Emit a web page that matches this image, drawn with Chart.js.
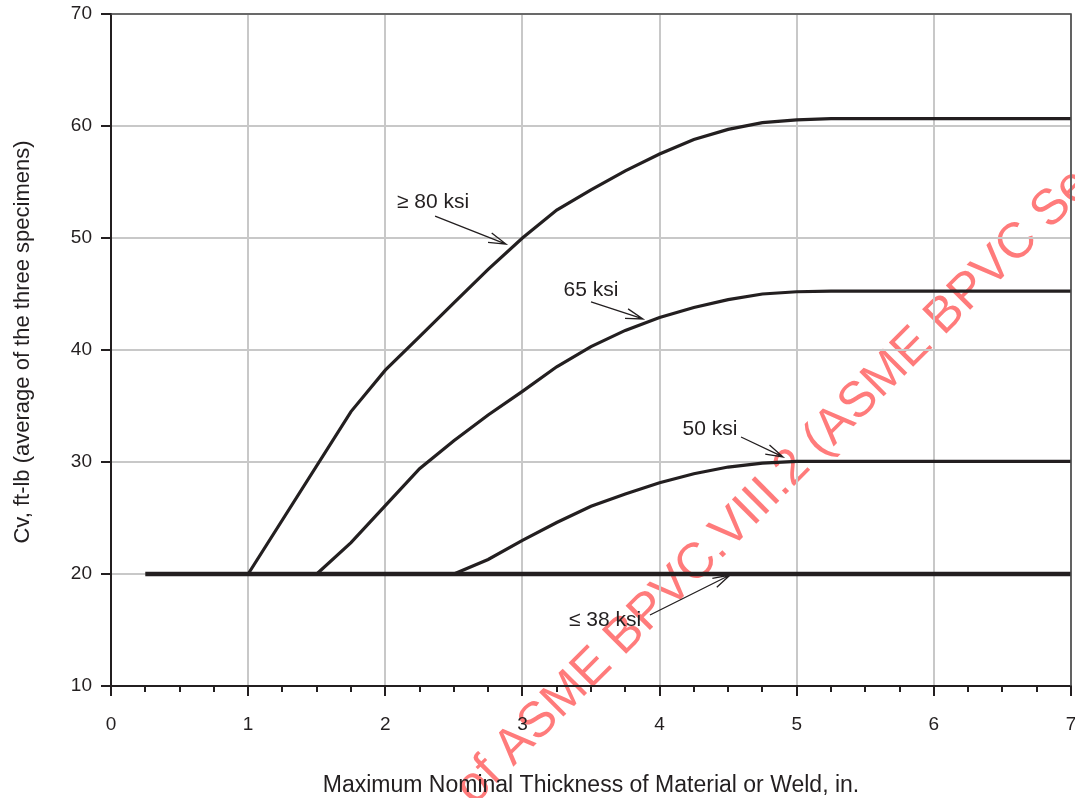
<!DOCTYPE html>
<html>
<head>
<meta charset="utf-8">
<script src="https://cdn.jsdelivr.net/npm/chart.js@4/dist/chart.umd.min.js"></script>
<style>
  html, body { margin: 0; padding: 0; background: #fff; overflow: hidden; }
  #wrap { width: 1075px; height: 798px; overflow: hidden; }
</style>
</head>
<body>
<div id="wrap"><canvas id="chart" width="1090" height="798"></canvas></div>
<script>
// Cv vs thickness curves, one pair of arrays per yield strength
const thick80 = [1, 1.75, 2, 2.25, 2.5, 2.75, 3, 3.25, 3.5, 3.75, 4, 4.25, 4.5, 4.75, 5, 5.25, 7];
const cv80 = [20, 34.5, 38.2, 41.2, 44.2, 47.2, 50.0, 52.5, 54.3, 56.0, 57.5, 58.8, 59.7, 60.3, 60.55, 60.65, 60.65];

const thick65 = [1.5, 1.75, 2, 2.25, 2.5, 2.75, 3, 3.25, 3.5, 3.75, 4, 4.25, 4.5, 4.75, 5, 5.25, 7];
const cv65 = [20, 22.8, 26.1, 29.4, 31.9, 34.2, 36.3, 38.5, 40.3, 41.75, 42.9, 43.8, 44.5, 45.0, 45.2, 45.25, 45.25];

const thick50 = [2.5, 2.75, 3, 3.25, 3.5, 3.75, 4, 4.25, 4.5, 4.75, 5, 7];
const cv50 = [20, 21.3, 23.0, 24.6, 26.05, 27.15, 28.15, 28.95, 29.55, 29.9, 30.05, 30.05];

const thick38 = [0.25, 7];
const cv38 = [20, 20];

// curve labels and their arrows, in data units
const labelText = ["\u2265 80 ksi", "65 ksi", "50 ksi", "\u2264 38 ksi"];
const labelX = [2.348, 3.50, 4.368, 3.602];
const labelY = [53.2, 45.36, 32.95, 15.89];
const arrowFromX = [2.363, 3.50, 4.594, 3.930];
const arrowFromY = [51.96, 44.29, 32.23, 16.34];
const arrowToX = [2.880, 3.879, 4.90, 4.514];
const arrowToY = [49.46, 42.77, 30.45, 19.91];

const xTitle = "Maximum Nominal Thickness of Material or Weld, in.";
const yTitle = "Cv, ft-lb (average of the three specimens)";
const watermark = "of ASME BPVC.VIII.2 (ASME BPVC Se";

const INK = "#231f20";
const FONT = "'Liberation Sans', Arial, Helvetica, sans-serif";

function pts(xs, ys) {
    return xs.map((x, i) => ({ x, y: ys[i] }));
}

function curve(xs, ys, width) {
    return {
        data: pts(xs, ys),
        borderColor: INK,
        borderWidth: width,
        pointRadius: 0,
        tension: 0,
        fill: false,
    };
}

function arrow(ctx, x1, y1, x2, y2) {
    const a = Math.atan2(y2 - y1, x2 - x1);
    const len = 18;
    const spread = 16 * Math.PI / 180;
    ctx.beginPath();
    ctx.moveTo(x1, y1);
    ctx.lineTo(x2, y2);
    ctx.moveTo(x2 - len * Math.cos(a - spread), y2 - len * Math.sin(a - spread));
    ctx.lineTo(x2, y2);
    ctx.lineTo(x2 - len * Math.cos(a + spread), y2 - len * Math.sin(a + spread));
    ctx.stroke();
}

// keep the tick labels from pushing the plot area in
function pinScale(scale) {
    scale.paddingTop = 0;
    scale.paddingBottom = 0;
    scale.paddingLeft = 0;
    scale.paddingRight = 0;
}

const decor = {
    id: "decor",
    beforeDraw(chart) {
        const ctx = chart.ctx;
        ctx.save();
        ctx.fillStyle = "#fff";
        ctx.fillRect(0, 0, chart.width, chart.height);
        // red watermark stamped across the sheet
        ctx.translate(474, 806);
        ctx.rotate(-Math.PI / 4);
        ctx.font = "50px " + FONT;
        ctx.fillStyle = "#ff7b7b";
        ctx.textAlign = "left";
        ctx.textBaseline = "alphabetic";
        ctx.fillText(watermark, 0, 0);
        ctx.restore();
    },
    afterDraw(chart) {
        const ctx = chart.ctx;
        const area = chart.chartArea;
        const xs = chart.scales.x;
        const ys = chart.scales.y;
        ctx.save();

        // top and right frame
        ctx.strokeStyle = "#4a4a4a";
        ctx.lineWidth = 1.6;
        ctx.beginPath();
        ctx.moveTo(area.left, area.top);
        ctx.lineTo(area.right, area.top);
        ctx.lineTo(area.right, area.bottom);
        ctx.stroke();

        // minor ticks every quarter inch
        ctx.strokeStyle = INK;
        ctx.lineWidth = 2;
        ctx.beginPath();
        for (let k = 1; k < 28; k++) {
            if (k % 4 === 0) continue;
            const px = Math.round(xs.getPixelForValue(k / 4));
            ctx.moveTo(px, area.bottom);
            ctx.lineTo(px, area.bottom + 6);
        }
        ctx.stroke();

        // curve labels
        ctx.fillStyle = INK;
        ctx.font = "21px " + FONT;
        ctx.textAlign = "center";
        ctx.textBaseline = "middle";
        labelText.forEach((t, i) => {
            ctx.fillText(t, xs.getPixelForValue(labelX[i]), ys.getPixelForValue(labelY[i]));
        });
        ctx.lineWidth = 1.3;
        labelText.forEach((t, i) => {
            arrow(ctx,
                xs.getPixelForValue(arrowFromX[i]), ys.getPixelForValue(arrowFromY[i]),
                xs.getPixelForValue(arrowToX[i]), ys.getPixelForValue(arrowToY[i]));
        });

        // axis titles
        ctx.font = "23px " + FONT;
        ctx.fillText(xTitle, (area.left + area.right) / 2, 786);
        ctx.translate(23, 342);
        ctx.rotate(-Math.PI / 2);
        ctx.font = "22px " + FONT;
        ctx.fillText(yTitle, 0, 0);
        ctx.restore();
    },
};

const axisGrid = {
    color: "#c8c8c8",
    lineWidth: 2,
    tickColor: INK,
    tickWidth: 2,
    tickLength: 10,
};

new Chart(document.getElementById("chart"), {
    type: "line",
    data: {
        datasets: [
            curve(thick38, cv38, 4.5),
            curve(thick50, cv50, 3.2),
            curve(thick65, cv65, 3.2),
            curve(thick80, cv80, 3.2),
        ],
    },
    options: {
        responsive: false,
        animation: false,
        devicePixelRatio: 1,
        layout: { padding: { left: 0, top: 14, right: 19, bottom: 0 } },
        plugins: { legend: { display: false }, tooltip: { enabled: false } },
        scales: {
            x: {
                type: "linear",
                min: 0,
                max: 7,
                ticks: {
                    stepSize: 1,
                    color: INK,
                    padding: 17,
                    font: { family: FONT, size: 19 },
                },
                grid: axisGrid,
                border: { color: INK, width: 2 },
                afterFit(scale) {
                    scale.height = 112;
                    pinScale(scale);
                },
            },
            y: {
                min: 10,
                max: 70,
                ticks: {
                    stepSize: 10,
                    color: INK,
                    padding: 9,
                    font: { family: FONT, size: 19 },
                },
                grid: axisGrid,
                border: { color: INK, width: 2 },
                afterFit(scale) {
                    scale.width = 111;
                    pinScale(scale);
                },
            },
        },
    },
    plugins: [decor],
});
</script>
</body>
</html>
